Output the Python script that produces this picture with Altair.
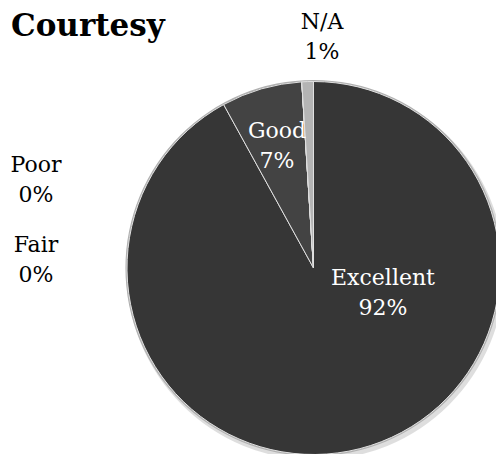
import altair as alt
import pandas as pd

# ---- data ----
categories = ["Excellent", "Good", "Poor", "Fair", "N/A"]
percents = [92, 7, 0, 0, 1]
rank = [1, 2, 3, 4, 5]
colors = ["#363636", "#434343", "#404040", "#404040", "#b4b4b4"]
title_text = "Courtesy"

df = pd.DataFrame({"category": categories, "pct": percents, "rank": rank})

# ---- layout ----
W, H = 488, 446
CX, CY, R = 305.5, 260, 187
FONT = "DejaVu Serif"

base = alt.Chart(df)

shadow = alt.Chart(pd.DataFrame({"a": [0]})).mark_arc(
    theta=0, theta2=6.2832, radius=R + 2, fill="#d0d0d0", opacity=0.7
).encode(x=alt.value(CX + 2), y=alt.value(CY + 3))

rim = alt.Chart(pd.DataFrame({"a": [0]})).mark_arc(
    theta=0, theta2=6.2832, radius=R + 1, fill="#b0b0b0"
).encode(x=alt.value(CX), y=alt.value(CY))

pie = base.mark_arc(radius=R - 0.5, stroke="#e0e0e0", strokeWidth=1).encode(
    theta=alt.Theta("pct:Q", stack=True),
    order=alt.Order("rank:Q"),
    color=alt.Color("category:N", scale=alt.Scale(domain=categories, range=colors), legend=None),
    x=alt.value(CX),
    y=alt.value(CY),
)

label_layout = {
    "Excellent": (375, 277, "white"),
    "Good": (269, 130, "white"),
    "N/A": (314, 21, "black"),
    "Poor": (28, 164, "black"),
    "Fair": (28, 244, "black"),
}

layers = [shadow, rim, pie]
for cat, pct in zip(categories, percents):
    lx, ly, col = label_layout[cat]
    lab = alt.Chart(pd.DataFrame({"t": [f"{cat}\n{pct}%"]})).mark_text(
        font=FONT, fontSize=22, align="center", baseline="alphabetic",
        lineBreak="\n", lineHeight=30, color=col
    ).encode(text="t:N", x=alt.value(lx), y=alt.value(ly))
    layers.append(lab)

title = alt.Chart(pd.DataFrame({"t": [title_text]})).mark_text(
    font=FONT, fontSize=31, fontWeight="bold", align="left", baseline="alphabetic", color="black"
).encode(text="t:N", x=alt.value(3), y=alt.value(28))
layers.append(title)

chart = alt.layer(*layers).properties(
    width=W, height=H, padding=0, autosize=alt.AutoSizeParams(type="none")
).configure_view(stroke=None)

chart.save("out.html", embed_options={"renderer": "svg", "actions": False})
